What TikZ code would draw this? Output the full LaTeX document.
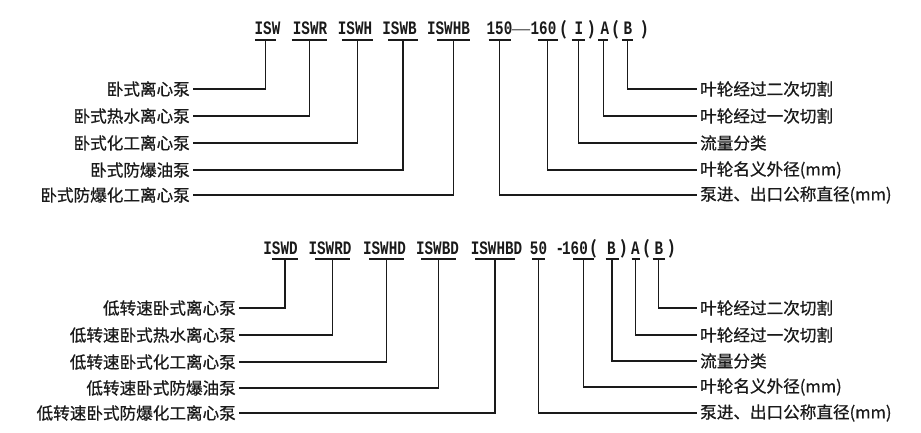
\documentclass[tikz,border=0pt]{standalone}
\usepackage{fontspec}
\usetikzlibrary{calc}
\newfontfamily\cjkfont[FakeBold=0.7]{Noto Sans CJK SC}
\newfontfamily\codefont[FakeStretch=0.75]{Liberation Mono Bold}
\newfontfamily\parfont{Noto Sans CJK SC Bold}
\newfontfamily\dashfont{Liberation Serif}
\definecolor{ink}{HTML}{1A1A1A}
\tikzset{
  code/.style={font=\fontsize{19}{19}\codefont, inner sep=0pt, anchor=base, text=ink},
  paren/.style={font=\fontsize{18}{18}\parfont, inner sep=0pt, anchor=base, text=ink},
  dsh/.style={font=\fontsize{18}{18}\dashfont, inner sep=0pt, anchor=base, text=ink},
  lab/.style={font=\fontsize{16.6}{17}\cjkfont, inner xsep=3pt, inner ysep=0pt, text=ink},
  labl/.style={lab, anchor=east},
  labr/.style={lab, anchor=west},
  ul/.style={line width=1.5pt, draw=ink},
  conn/.style={line width=1.3pt, draw=ink},
}
\newcommand{\uline}[2]{\draw[ul] ($(#1)+(-#2,0)$) -- ($(#1)+(#2,0)$);}
\begin{document}
\begin{tikzpicture}[x=1pt,y=-1pt]
\useasboundingbox[fill=white] (0,0) rectangle (921,433);

% ---------------- top part ----------------
\node[code] (tISW)   at (267.5,35) {ISW};
\node[code] (tISWR)  at (310,35)   {ISWR};
\node[code] (tISWH)  at (355,35)   {ISWH};
\node[code] (tISWB)  at (399.5,35) {ISWB};
\node[code] (tISWHB) at (448.5,35) {ISWHB};
\node[code] (t150)   at (499.5,35) {150};
\node[dsh]  (tdash)  at (521,35)   {—};
\node[code] (t160)   at (543.5,35) {160};
\node[paren] (tpl1)  at (564,35.5)   {(};
\node[code] (tI)     at (579,35)   {I};
\node[paren] (tpr1)  at (592,35.5)   {)};
\node[code] (tA)     at (605,35)   {A};
\node[paren] (tpl2)  at (616,35.5)   {(};
\node[code] (tB)     at (628,35)   {B};
\node[paren] (tpr2)  at (645,35.5)   {)};

\coordinate (uISW)   at (265.7,40);
\coordinate (uISWR)  at (309.3,40);
\coordinate (uISWH)  at (357.3,40);
\coordinate (uISWB)  at (403,40);
\coordinate (uISWHB) at (453.8,40);
\coordinate (u150)   at (499.5,40);
\coordinate (u160)   at (547.8,40);
\coordinate (uI)     at (578.3,40);
\coordinate (uA)     at (603.3,40);
\coordinate (uB)     at (627.8,40);

\uline{uISW}{10.5}
\uline{uISWR}{17.5}
\uline{uISWH}{15.5}
\uline{uISWB}{15}
\uline{uISWHB}{16.5}
\uline{u150}{11}
\uline{u160}{10}
\uline{uI}{6.5}
\uline{uA}{5}
\uline{uB}{5.5}

\node[labl] (L1) at (193,89)  {卧式离心泵};
\node[labl] (L2) at (193,116) {卧式热水离心泵};
\node[labl] (L3) at (193,143) {卧式化工离心泵};
\node[labl] (L4) at (193,170) {卧式防爆油泵};
\node[labl] (L5) at (193,195) {卧式防爆化工离心泵};

\node[labr] (R1) at (697,89)  {叶轮经过二次切割};
\node[labr] (R2) at (697,116) {叶轮经过一次切割};
\node[labr] (R3) at (697,143) {流量分类};
\node[labr] (R4) at (697,170) {叶轮名义外径(mm)};
\node[labr] (R5) at (697,195) {泵进、出口公称直径(mm)};

\draw[conn] (uISW)   |- (L1.east);
\draw[conn] (uISWR)  |- (L2.east);
\draw[conn] (uISWH)  |- (L3.east);
\draw[conn] (uISWB)  |- (L4.east);
\draw[conn] (uISWHB) |- (L5.east);
\draw[conn] (uB)     |- (R1.west);
\draw[conn] (uA)     |- (R2.west);
\draw[conn] (uI)     |- (R3.west);
\draw[conn] (u160)   |- (R4.west);
\draw[conn] (u150)   |- (R5.west);

% ---------------- bottom part ----------------
\node[code] (bISWD)   at (280.5,254) {ISWD};
\node[code] (bISWRD)  at (330,254)   {ISWRD};
\node[code] (bISWHD)  at (384.5,254) {ISWHD};
\node[code] (bISWBD)  at (437.5,254) {ISWBD};
\node[code] (bISWHBD) at (496.5,254) {ISWHBD};
\node[code] (b50)     at (538.5,254) {50};
\node[code] (bdash)   at (560,254)   {-};
\node[code] (b160)    at (575,254)   {160};
\node[paren] (bpl1)   at (594,254.5)   {(};
\node[code] (bB1)     at (611.5,254) {B};
\node[paren] (bpr1)   at (624,254.5)   {)};
\node[code] (bA)      at (635.5,254) {A};
\node[paren] (bpl2)   at (646.5,254.5) {(};
\node[code] (bB2)     at (659,254)   {B};
\node[paren] (bpr2)   at (672,254.5)   {)};

\coordinate (vISWD)   at (285,259);
\coordinate (vISWRD)  at (332.5,259);
\coordinate (vISWHD)  at (386.5,259);
\coordinate (vISWBD)  at (438.5,259);
\coordinate (vISWHBD) at (495,259);
\coordinate (v50)     at (538.5,259);
\coordinate (v160)    at (583.5,259);
\coordinate (vB1)     at (612,259);
\coordinate (vA)      at (635.5,259);
\coordinate (vB2)     at (658.5,259);

\uline{vISWD}{13}
\uline{vISWRD}{17.5}
\uline{vISWHD}{17.5}
\uline{vISWBD}{17.5}
\uline{vISWHBD}{20}
\uline{v50}{6.5}
\uline{v160}{10.5}
\uline{vB1}{6.5}
\uline{vA}{4}
\uline{vB2}{6}

\node[labl] (M1) at (239,308) {低转速卧式离心泵};
\node[labl] (M2) at (239,335) {低转速卧式热水离心泵};
\node[labl] (M3) at (239,362) {低转速卧式化工离心泵};
\node[labl] (M4) at (239,388) {低转速卧式防爆油泵};
\node[labl] (M5) at (239,413) {低转速卧式防爆化工离心泵};

\node[labr] (S1) at (697,308) {叶轮经过二次切割};
\node[labr] (S2) at (697,335) {叶轮经过一次切割};
\node[labr] (S3) at (697,361) {流量分类};
\node[labr] (S4) at (697,387) {叶轮名义外径(mm)};
\node[labr] (S5) at (697,413) {泵进、出口公称直径(mm)};

\draw[conn] (vISWD)   |- (M1.east);
\draw[conn] (vISWRD)  |- (M2.east);
\draw[conn] (vISWHD)  |- (M3.east);
\draw[conn] (vISWBD)  |- (M4.east);
\draw[conn] (vISWHBD) |- (M5.east);
\draw[conn] (vB2)     |- (S1.west);
\draw[conn] (vA)      |- (S2.west);
\draw[conn] (vB1)     |- (S3.west);
\draw[conn] (v160)    |- (S4.west);
\draw[conn] (v50)     |- (S5.west);
\end{tikzpicture}
\end{document}
